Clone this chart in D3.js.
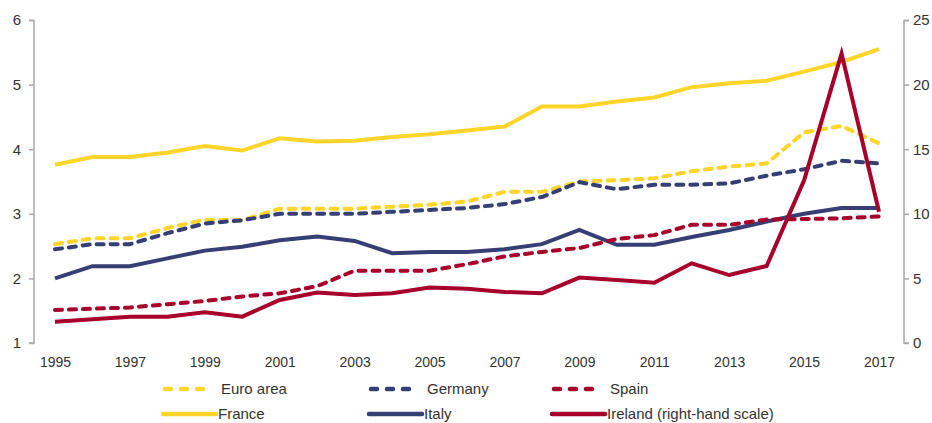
<!DOCTYPE html>
<html><head><meta charset="utf-8">
<script src="https://cdn.jsdelivr.net/npm/d3@7/dist/d3.min.js"></script>
<style>
body{margin:0;background:#fff;}
text{font-family:"Liberation Sans",Arial,Helvetica,sans-serif;fill:#333;}
</style></head><body>
<svg id="c" width="932" height="423"></svg>
<script>
const years = d3.range(1995, 2018);
const yearTicks = [1995,1997,1999,2001,2003,2005,2007,2009,2011,2013,2015,2017];
const leftTicks = [1,2,3,4,5,6];
const rightTicks = [0,5,10,15,20,25];

const euroArea = [2.53,2.62,2.62,2.78,2.91,2.90,3.08,3.08,3.08,3.11,3.14,3.19,3.34,3.34,3.50,3.52,3.55,3.66,3.73,3.78,4.26,4.36,4.09];
const germany  = [2.45,2.53,2.53,2.70,2.85,2.90,3.00,3.00,3.00,3.03,3.06,3.09,3.15,3.26,3.49,3.38,3.45,3.45,3.47,3.59,3.69,3.82,3.78];
const spain    = [1.51,1.53,1.55,1.60,1.65,1.72,1.77,1.88,2.12,2.12,2.12,2.22,2.34,2.41,2.47,2.61,2.67,2.83,2.83,2.91,2.92,2.93,2.96];
const france   = [3.76,3.88,3.88,3.95,4.05,3.98,4.17,4.12,4.13,4.19,4.23,4.29,4.35,4.66,4.66,4.74,4.80,4.96,5.02,5.06,5.20,5.35,5.55];
const italy    = [2.00,2.19,2.19,2.31,2.43,2.49,2.59,2.65,2.58,2.39,2.41,2.41,2.45,2.53,2.75,2.52,2.52,2.64,2.75,2.88,3.00,3.09,3.09];
const ireland  = [1.65,1.83,2.04,2.04,2.37,2.04,3.33,3.90,3.72,3.85,4.30,4.20,3.95,3.85,5.06,4.88,4.67,6.17,5.26,5.96,12.6,22.4,10.16];

const YELLOW = "#FFD52A", NAVY = "#363F74", RED = "#A6002B", AXIS = "#A8A8A8";

const svg = d3.select("#c");
const x = d3.scaleLinear().domain([1995, 2017]).range([55, 879]);
const yL = d3.scaleLinear().domain([1, 6]).range([343, 20]);
const yR = d3.scaleLinear().domain([0, 25]).range([343, 20]);

// left axis
const gl = svg.append("g").attr("transform","translate(34,0)")
  .call(d3.axisLeft(yL).tickValues(leftTicks).tickSize(5).tickPadding(8).tickFormat(d3.format("d")));
gl.select(".domain").attr("stroke", AXIS).attr("stroke-width",1.5).attr("d","M-5,20.5H0V343H-5");
gl.selectAll(".tick line").attr("stroke", AXIS).attr("stroke-width",1.5);
gl.selectAll(".tick text").style("font-size","15px").attr("fill","#333");

// right axis
const gr = svg.append("g").attr("transform","translate(904,0)")
  .call(d3.axisRight(yR).tickValues(rightTicks).tickSize(5).tickPadding(4));
gr.select(".domain").attr("stroke", AXIS).attr("stroke-width",1.5).attr("d","M5,20.5H0V343H5");
gr.selectAll(".tick line").attr("stroke", AXIS).attr("stroke-width",1.5);
gr.selectAll(".tick text").style("font-size","15px").attr("fill","#333");

// x axis labels
const gx = svg.append("g").attr("transform","translate(0,352)")
  .call(d3.axisBottom(x).tickValues(yearTicks).tickSize(0).tickPadding(5).tickFormat(d3.format("d")));
gx.select(".domain").remove();
gx.selectAll(".tick text").style("font-size","14px").attr("fill","#333");

const mk = (ys, arr) => d3.line().x((d,i)=>x(years[i])).y(d=>ys(d))(arr);

const series = [
  {name:"Euro area", data:euroArea, color:YELLOW, dash:true, scale:yL},
  {name:"Germany", data:germany, color:NAVY, dash:true, scale:yL},
  {name:"Spain", data:spain, color:RED, dash:true, scale:yL},
  {name:"France", data:france, color:YELLOW, dash:false, scale:yL},
  {name:"Italy", data:italy, color:NAVY, dash:false, scale:yL},
  {name:"Ireland (right-hand scale)", data:ireland, color:RED, dash:false, scale:yR}
];
const drawOrder = [3,0,1,4,2,5];
drawOrder.forEach(k=>{
  const s = series[k];
  svg.append("path").attr("d", mk(s.scale, s.data))
    .attr("fill","none").attr("stroke", s.color).attr("stroke-width",4)
    .attr("stroke-linejoin", "miter").attr("stroke-linecap", s.dash ? "round":"butt")
    .attr("stroke-dasharray", s.dash ? "7,7" : null);
});

// legend
const legX = [163, 369, 552];
const legY = [389, 414];
series.forEach((s,i)=>{
  const col = i%3, row = Math.floor(i/3);
  const g = svg.append("g").attr("transform",`translate(${legX[col]},${legY[row]})`);
  if (s.dash) {
    g.append("line").attr("x1",2).attr("x2",48).attr("y1",0).attr("y2",0)
      .attr("stroke",s.color).attr("stroke-width",4.5).attr("stroke-linecap","round")
      .attr("stroke-dasharray","6,10");
  } else {
    g.append("line").attr("x1",0).attr("x2",53).attr("y1",0).attr("y2",0)
      .attr("stroke",s.color).attr("stroke-width",4.5).attr("stroke-linecap","round");
  }
  g.append("text").attr("x", s.dash ? 58 : 55).attr("y",5).style("font-size","15px").text(s.name);
});
</script>
</body></html>
